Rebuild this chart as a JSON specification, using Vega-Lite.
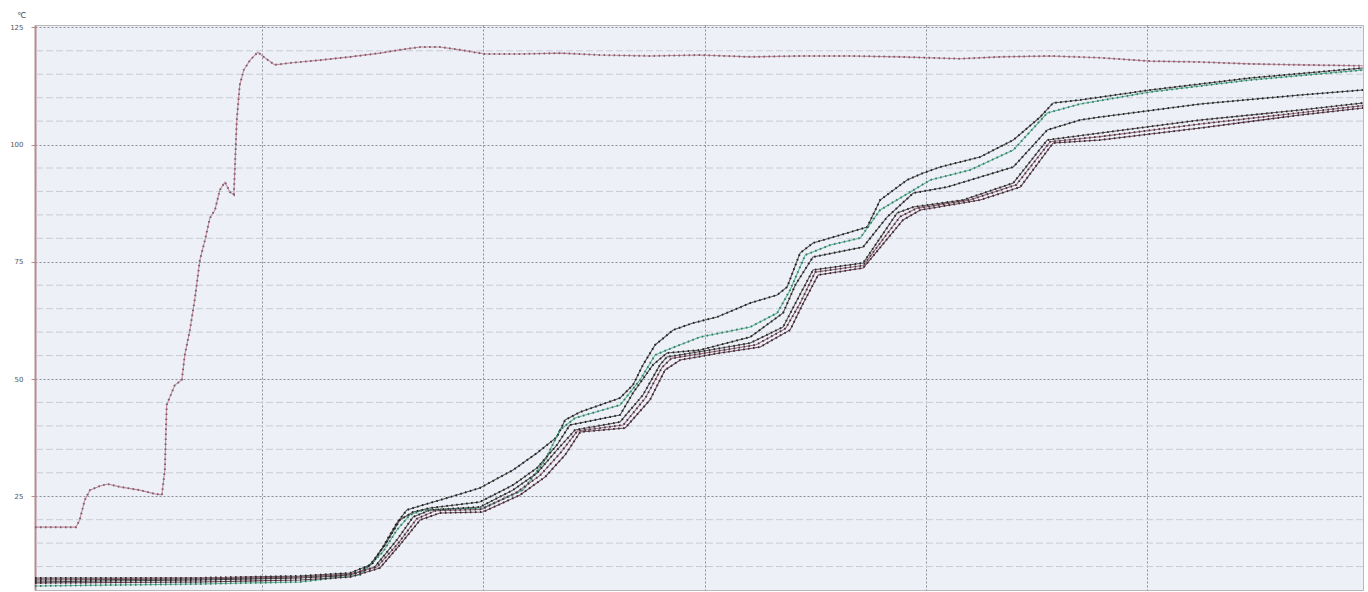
{
  "$schema": "https://vega.github.io/schema/vega-lite/v6.json",
  "width": 1328,
  "height": 565,
  "autosize": {"type": "none"},
  "padding": {"left": 35, "top": 25, "right": 5, "bottom": 2},
  "background": "#ffffff",
  "config": {
    "view": {"fill": "#edf0f7", "stroke": "#b8b8b8", "strokeWidth": 1},
    "font": "DejaVu Sans"
  },
  "datasets": {
    "minor": [
      {"v": 10}, {"v": 15}, {"v": 20}, {"v": 30}, {"v": 35}, {"v": 40}, {"v": 45},
      {"v": 55}, {"v": 60}, {"v": 65}, {"v": 70}, {"v": 80}, {"v": 85}, {"v": 90},
      {"v": 95}, {"v": 105}, {"v": 110}, {"v": 115}, {"v": 120}
    ],
    "temps": [
      {"s": "oven", "t": -1.5, "v": 18.4}, {"s": "oven", "t": 5.2, "v": 18.4}, {"s": "oven", "t": 9.6, "v": 18.4},
      {"s": "oven", "t": 10.6, "v": 19.9}, {"s": "oven", "t": 12.0, "v": 24.2}, {"s": "oven", "t": 13.4, "v": 26.3},
      {"s": "oven", "t": 16.1, "v": 27.2}, {"s": "oven", "t": 18.2, "v": 27.6}, {"s": "oven", "t": 21.5, "v": 27.0},
      {"s": "oven", "t": 26.9, "v": 26.3}, {"s": "oven", "t": 31.0, "v": 25.5}, {"s": "oven", "t": 32.9, "v": 25.3},
      {"s": "oven", "t": 33.7, "v": 30.6}, {"s": "oven", "t": 34.2, "v": 44.5}, {"s": "oven", "t": 36.4, "v": 48.7},
      {"s": "oven", "t": 38.3, "v": 49.8}, {"s": "oven", "t": 39.1, "v": 55.1}, {"s": "oven", "t": 40.5, "v": 60.5},
      {"s": "oven", "t": 41.8, "v": 66.9}, {"s": "oven", "t": 43.2, "v": 75.4}, {"s": "oven", "t": 44.6, "v": 79.7},
      {"s": "oven", "t": 45.9, "v": 84.3}, {"s": "oven", "t": 47.3, "v": 86.1}, {"s": "oven", "t": 48.6, "v": 90.3},
      {"s": "oven", "t": 50.0, "v": 92.0}, {"s": "oven", "t": 51.3, "v": 89.9}, {"s": "oven", "t": 52.4, "v": 89.3},
      {"s": "oven", "t": 53.2, "v": 105.2}, {"s": "oven", "t": 54.0, "v": 112.7}, {"s": "oven", "t": 55.1, "v": 115.9},
      {"s": "oven", "t": 56.8, "v": 118.0}, {"s": "oven", "t": 58.9, "v": 119.7}, {"s": "oven", "t": 60.8, "v": 118.5},
      {"s": "oven", "t": 63.5, "v": 117.0}, {"s": "oven", "t": 67.6, "v": 117.4}, {"s": "oven", "t": 70.3, "v": 117.6},
      {"s": "oven", "t": 75.7, "v": 118.0}, {"s": "oven", "t": 83.9, "v": 118.7}, {"s": "oven", "t": 92.0, "v": 119.5},
      {"s": "oven", "t": 97.4, "v": 120.2}, {"s": "oven", "t": 102.9, "v": 120.8}, {"s": "oven", "t": 108.3, "v": 120.8},
      {"s": "oven", "t": 113.7, "v": 120.2}, {"s": "oven", "t": 120.5, "v": 119.3}, {"s": "oven", "t": 130.0, "v": 119.3},
      {"s": "oven", "t": 140.8, "v": 119.5}, {"s": "oven", "t": 151.7, "v": 119.1}, {"s": "oven", "t": 165.2, "v": 118.9},
      {"s": "oven", "t": 178.8, "v": 119.1}, {"s": "oven", "t": 192.4, "v": 118.7}, {"s": "oven", "t": 205.9, "v": 118.9},
      {"s": "oven", "t": 219.5, "v": 118.9}, {"s": "oven", "t": 233.0, "v": 118.7}, {"s": "oven", "t": 249.3, "v": 118.3},
      {"s": "oven", "t": 260.1, "v": 118.7}, {"s": "oven", "t": 273.7, "v": 118.9}, {"s": "oven", "t": 287.3, "v": 118.5},
      {"s": "oven", "t": 300.8, "v": 117.8}, {"s": "oven", "t": 314.4, "v": 117.6}, {"s": "oven", "t": 327.9, "v": 117.2},
      {"s": "oven", "t": 341.5, "v": 117.0}, {"s": "oven", "t": 358.5, "v": 116.8},

      {"s": "A", "t": -1.5, "v": 6.72}, {"s": "A", "t": 16.1, "v": 6.93}, {"s": "A", "t": 43.2, "v": 7.14},
      {"s": "A", "t": 70.3, "v": 7.57}, {"s": "A", "t": 81.2, "v": 8.0}, {"s": "A", "t": 86.6, "v": 8.85},
      {"s": "A", "t": 90.1, "v": 10.77}, {"s": "A", "t": 92.8, "v": 14.18}, {"s": "A", "t": 96.6, "v": 19.3},
      {"s": "A", "t": 99.3, "v": 22.07}, {"s": "A", "t": 103.7, "v": 23.14}, {"s": "A", "t": 110.2, "v": 24.63},
      {"s": "A", "t": 119.1, "v": 26.76}, {"s": "A", "t": 128.1, "v": 30.6}, {"s": "A", "t": 134.6, "v": 34.23},
      {"s": "A", "t": 140.0, "v": 37.64}, {"s": "A", "t": 142.2, "v": 41.26}, {"s": "A", "t": 146.3, "v": 42.97},
      {"s": "A", "t": 151.7, "v": 44.46}, {"s": "A", "t": 157.1, "v": 45.96}, {"s": "A", "t": 160.6, "v": 48.73},
      {"s": "A", "t": 163.3, "v": 53.0}, {"s": "A", "t": 166.6, "v": 57.26}, {"s": "A", "t": 171.5, "v": 60.46},
      {"s": "A", "t": 176.9, "v": 61.95}, {"s": "A", "t": 183.4, "v": 63.23}, {"s": "A", "t": 192.4, "v": 66.21},
      {"s": "A", "t": 199.7, "v": 67.92}, {"s": "A", "t": 202.4, "v": 69.63}, {"s": "A", "t": 205.9, "v": 76.88},
      {"s": "A", "t": 209.4, "v": 79.01}, {"s": "A", "t": 218.7, "v": 81.14}, {"s": "A", "t": 224.1, "v": 82.42},
      {"s": "A", "t": 227.6, "v": 88.18}, {"s": "A", "t": 234.9, "v": 92.45}, {"s": "A", "t": 239.3, "v": 93.94},
      {"s": "A", "t": 243.9, "v": 95.22}, {"s": "A", "t": 254.7, "v": 97.35}, {"s": "A", "t": 263.7, "v": 100.98},
      {"s": "A", "t": 271.0, "v": 105.88}, {"s": "A", "t": 274.5, "v": 108.87}, {"s": "A", "t": 281.8, "v": 109.51},
      {"s": "A", "t": 300.8, "v": 111.64}, {"s": "A", "t": 327.9, "v": 114.2}, {"s": "A", "t": 358.5, "v": 116.33},

      {"s": "B", "t": -1.5, "v": 5.86}, {"s": "B", "t": 43.2, "v": 6.29}, {"s": "B", "t": 70.3, "v": 6.72},
      {"s": "B", "t": 86.6, "v": 8.21}, {"s": "B", "t": 92.8, "v": 13.11}, {"s": "B", "t": 96.6, "v": 17.8},
      {"s": "B", "t": 100.1, "v": 21.0}, {"s": "B", "t": 103.7, "v": 22.07}, {"s": "B", "t": 119.9, "v": 22.49},
      {"s": "B", "t": 130.8, "v": 26.33}, {"s": "B", "t": 136.8, "v": 32.73}, {"s": "B", "t": 140.8, "v": 39.13},
      {"s": "B", "t": 144.9, "v": 41.69}, {"s": "B", "t": 157.1, "v": 44.46}, {"s": "B", "t": 162.5, "v": 49.8},
      {"s": "B", "t": 166.6, "v": 55.12}, {"s": "B", "t": 169.8, "v": 56.19}, {"s": "B", "t": 178.8, "v": 58.96},
      {"s": "B", "t": 192.4, "v": 61.1}, {"s": "B", "t": 199.7, "v": 64.08}, {"s": "B", "t": 203.2, "v": 68.99},
      {"s": "B", "t": 207.3, "v": 76.45}, {"s": "B", "t": 214.1, "v": 78.58}, {"s": "B", "t": 222.2, "v": 80.08},
      {"s": "B", "t": 227.6, "v": 86.05}, {"s": "B", "t": 241.2, "v": 92.45}, {"s": "B", "t": 252.0, "v": 94.58},
      {"s": "B", "t": 263.7, "v": 98.84}, {"s": "B", "t": 272.9, "v": 106.73}, {"s": "B", "t": 281.8, "v": 108.65},
      {"s": "B", "t": 300.8, "v": 111.21}, {"s": "B", "t": 327.9, "v": 113.77}, {"s": "B", "t": 358.5, "v": 115.9},

      {"s": "D", "t": -1.5, "v": 7.57}, {"s": "D", "t": 43.2, "v": 7.57}, {"s": "D", "t": 70.3, "v": 8.0},
      {"s": "D", "t": 83.9, "v": 8.64}, {"s": "D", "t": 89.3, "v": 10.34}, {"s": "D", "t": 93.4, "v": 14.61},
      {"s": "D", "t": 97.4, "v": 19.94}, {"s": "D", "t": 101.0, "v": 21.64}, {"s": "D", "t": 105.6, "v": 22.49},
      {"s": "D", "t": 119.1, "v": 23.78}, {"s": "D", "t": 128.1, "v": 27.4}, {"s": "D", "t": 134.6, "v": 31.03},
      {"s": "D", "t": 140.0, "v": 35.93}, {"s": "D", "t": 143.5, "v": 40.2}, {"s": "D", "t": 157.1, "v": 42.33},
      {"s": "D", "t": 160.6, "v": 47.02}, {"s": "D", "t": 166.0, "v": 53.0}, {"s": "D", "t": 169.8, "v": 55.55},
      {"s": "D", "t": 178.8, "v": 56.19}, {"s": "D", "t": 192.4, "v": 58.96}, {"s": "D", "t": 201.3, "v": 64.08},
      {"s": "D", "t": 204.6, "v": 70.05}, {"s": "D", "t": 209.4, "v": 76.02}, {"s": "D", "t": 223.0, "v": 78.16},
      {"s": "D", "t": 229.5, "v": 84.55}, {"s": "D", "t": 236.6, "v": 89.67}, {"s": "D", "t": 245.8, "v": 90.95},
      {"s": "D", "t": 263.7, "v": 95.22}, {"s": "D", "t": 272.9, "v": 103.11}, {"s": "D", "t": 281.8, "v": 105.24},
      {"s": "D", "t": 287.3, "v": 105.88}, {"s": "D", "t": 314.4, "v": 108.65}, {"s": "D", "t": 341.5, "v": 110.57},
      {"s": "D", "t": 358.5, "v": 111.64},

      {"s": "E", "t": -1.5, "v": 7.14}, {"s": "E", "t": 43.2, "v": 7.36}, {"s": "E", "t": 70.3, "v": 7.78},
      {"s": "E", "t": 83.9, "v": 8.21}, {"s": "E", "t": 90.6, "v": 9.92}, {"s": "E", "t": 96.6, "v": 15.67},
      {"s": "E", "t": 101.0, "v": 20.58}, {"s": "E", "t": 105.6, "v": 22.07}, {"s": "E", "t": 119.1, "v": 22.71},
      {"s": "E", "t": 128.1, "v": 26.33}, {"s": "E", "t": 134.6, "v": 29.96}, {"s": "E", "t": 140.0, "v": 34.86},
      {"s": "E", "t": 144.9, "v": 39.13}, {"s": "E", "t": 157.1, "v": 40.84}, {"s": "E", "t": 163.3, "v": 46.59},
      {"s": "E", "t": 167.9, "v": 53.0}, {"s": "E", "t": 169.8, "v": 54.7}, {"s": "E", "t": 181.5, "v": 56.19},
      {"s": "E", "t": 192.4, "v": 57.68}, {"s": "E", "t": 201.3, "v": 61.1}, {"s": "E", "t": 205.1, "v": 66.85},
      {"s": "E", "t": 209.4, "v": 73.25}, {"s": "E", "t": 223.0, "v": 74.74}, {"s": "E", "t": 232.2, "v": 85.41},
      {"s": "E", "t": 236.6, "v": 86.69}, {"s": "E", "t": 250.1, "v": 88.18}, {"s": "E", "t": 263.7, "v": 91.81},
      {"s": "E", "t": 272.9, "v": 100.98}, {"s": "E", "t": 287.3, "v": 102.47}, {"s": "E", "t": 314.4, "v": 105.24},
      {"s": "E", "t": 341.5, "v": 107.37}, {"s": "E", "t": 358.5, "v": 108.87},

      {"s": "G", "t": -1.5, "v": 7.36}, {"s": "G", "t": 43.2, "v": 7.57}, {"s": "G", "t": 70.3, "v": 7.78},
      {"s": "G", "t": 83.9, "v": 8.42}, {"s": "G", "t": 91.2, "v": 9.9}, {"s": "G", "t": 97.0, "v": 15.0},
      {"s": "G", "t": 102.0, "v": 20.2}, {"s": "G", "t": 107.0, "v": 21.9}, {"s": "G", "t": 119.5, "v": 22.2},
      {"s": "G", "t": 129.0, "v": 25.8}, {"s": "G", "t": 135.5, "v": 29.5}, {"s": "G", "t": 141.0, "v": 34.3},
      {"s": "G", "t": 145.5, "v": 38.9}, {"s": "G", "t": 158.0, "v": 40.2}, {"s": "G", "t": 164.0, "v": 46.0},
      {"s": "G", "t": 168.5, "v": 52.5}, {"s": "G", "t": 171.0, "v": 54.4}, {"s": "G", "t": 183.0, "v": 55.9},
      {"s": "G", "t": 194.0, "v": 57.3}, {"s": "G", "t": 202.0, "v": 60.8}, {"s": "G", "t": 206.0, "v": 66.3},
      {"s": "G", "t": 210.0, "v": 72.8}, {"s": "G", "t": 223.0, "v": 74.2}, {"s": "G", "t": 233.0, "v": 84.6},
      {"s": "G", "t": 237.5, "v": 86.4}, {"s": "G", "t": 252.0, "v": 88.2}, {"s": "G", "t": 264.5, "v": 91.4},
      {"s": "G", "t": 273.7, "v": 100.6}, {"s": "G", "t": 287.3, "v": 101.7}, {"s": "G", "t": 314.4, "v": 104.4},
      {"s": "G", "t": 341.5, "v": 106.8}, {"s": "G", "t": 358.5, "v": 108.3},

      {"s": "F", "t": -1.5, "v": 6.5}, {"s": "F", "t": 43.2, "v": 6.72}, {"s": "F", "t": 70.3, "v": 7.14},
      {"s": "F", "t": 83.9, "v": 7.78}, {"s": "F", "t": 92.0, "v": 9.7}, {"s": "F", "t": 97.4, "v": 14.61},
      {"s": "F", "t": 102.9, "v": 19.94}, {"s": "F", "t": 108.3, "v": 21.43}, {"s": "F", "t": 119.9, "v": 21.64},
      {"s": "F", "t": 130.0, "v": 25.27}, {"s": "F", "t": 136.8, "v": 29.11}, {"s": "F", "t": 142.2, "v": 33.8},
      {"s": "F", "t": 146.3, "v": 38.7}, {"s": "F", "t": 158.5, "v": 39.56}, {"s": "F", "t": 165.2, "v": 45.53},
      {"s": "F", "t": 169.3, "v": 51.93}, {"s": "F", "t": 173.4, "v": 54.06}, {"s": "F", "t": 184.2, "v": 55.55},
      {"s": "F", "t": 195.1, "v": 56.83}, {"s": "F", "t": 203.2, "v": 60.46}, {"s": "F", "t": 206.5, "v": 65.79},
      {"s": "F", "t": 210.8, "v": 72.19}, {"s": "F", "t": 223.0, "v": 73.68}, {"s": "F", "t": 233.8, "v": 83.91},
      {"s": "F", "t": 238.5, "v": 86.05}, {"s": "F", "t": 254.7, "v": 88.18}, {"s": "F", "t": 265.6, "v": 90.95},
      {"s": "F", "t": 274.5, "v": 100.34}, {"s": "F", "t": 287.3, "v": 100.98}, {"s": "F", "t": 314.4, "v": 103.53},
      {"s": "F", "t": 341.5, "v": 106.31}, {"s": "F", "t": 358.5, "v": 107.8}
    ]
  },
  "layer": [
    {
      "data": {"name": "minor"},
      "mark": {"type": "rule", "color": "#c9ccd6", "strokeWidth": 1, "strokeDash": [7, 3]},
      "encoding": {
        "y": {
          "field": "v", "type": "quantitative",
          "scale": {"domain": [5, 125.5], "nice": false, "zero": false},
          "axis": {
            "values": [25, 50, 75, 100, 125], "title": "℃", "titleAngle": 0, "titleX": -14, "titleY": -6,
            "titleFontSize": 8, "titleFontWeight": "normal", "titleColor": "#444", "titleAlign": "center",
            "labelFontSize": 7, "labelColor": "#555", "labelPadding": 8,
            "domainColor": "#b48c8c", "domainWidth": 2, "tickColor": "#b48c8c", "tickSize": 4,
            "grid": true, "gridColor": "#8a8f9a", "gridDash": [2, 2], "gridWidth": 1
          }
        }
      }
    },
    {
      "data": {"name": "temps"},
      "mark": {"type": "line", "strokeWidth": 1.1, "interpolate": "linear"},
      "encoding": {
        "x": {
          "field": "t", "type": "quantitative",
          "scale": {"domain": [-1.5, 358.5], "nice": false, "zero": false},
          "axis": {
            "values": [60, 120, 180, 240, 300], "labels": false, "ticks": false, "domain": false, "title": null,
            "grid": true, "gridColor": "#8a8f9a", "gridDash": [2, 2], "gridWidth": 1
          }
        },
        "y": {
          "field": "v", "type": "quantitative",
          "scale": {"domain": [5, 125.5], "nice": false, "zero": false},
          "axis": {
            "values": [25, 50, 75, 100, 125], "title": "℃", "titleAngle": 0, "titleX": -14, "titleY": -6,
            "titleFontSize": 8, "titleFontWeight": "normal", "titleColor": "#444", "titleAlign": "center",
            "labelFontSize": 7, "labelColor": "#555", "labelPadding": 8,
            "domainColor": "#b48c8c", "domainWidth": 2, "tickColor": "#b48c8c", "tickSize": 4,
            "grid": true, "gridColor": "#8a8f9a", "gridDash": [2, 2], "gridWidth": 1
          }
        },
        "detail": {"field": "s"},
        "color": {
          "field": "s", "type": "nominal", "legend": null,
          "scale": {
            "domain": ["oven", "A", "B", "D", "E", "G", "F"],
            "range": ["#c48a9c", "#555555", "#5fb898", "#555555", "#5e5456", "#9a7080", "#6e4a58"]
          }
        },
        "order": {"field": "t", "type": "quantitative"}
      }
    },
    {
      "data": {"name": "temps"},
      "mark": {"type": "line", "strokeWidth": 2, "strokeDash": [1.5, 3.5], "interpolate": "linear"},
      "encoding": {
        "x": {"field": "t", "type": "quantitative", "scale": {"domain": [-1.5, 358.5], "nice": false, "zero": false},
          "axis": {
            "values": [60, 120, 180, 240, 300], "labels": false, "ticks": false, "domain": false, "title": null,
            "grid": true, "gridColor": "#8a8f9a", "gridDash": [2, 2], "gridWidth": 1
          }
        },
        "y": {"field": "v", "type": "quantitative", "scale": {"domain": [5, 125.5], "nice": false, "zero": false},
          "axis": {
            "values": [25, 50, 75, 100, 125], "title": "℃", "titleAngle": 0, "titleX": -14, "titleY": -6,
            "titleFontSize": 8, "titleFontWeight": "normal", "titleColor": "#444", "titleAlign": "center",
            "labelFontSize": 7, "labelColor": "#555", "labelPadding": 8,
            "domainColor": "#b48c8c", "domainWidth": 2, "tickColor": "#b48c8c", "tickSize": 4,
            "grid": true, "gridColor": "#8a8f9a", "gridDash": [2, 2], "gridWidth": 1
          }
        },
        "detail": {"field": "s"},
        "stroke": {
          "field": "s", "type": "nominal", "legend": null,
          "scale": {
            "domain": ["oven", "A", "B", "D", "E", "G", "F"],
            "range": ["#7a6068", "#222222", "#3c7a64", "#222222", "#2a2a2a", "#4a3038", "#3a2a30"]
          }
        },
        "order": {"field": "t", "type": "quantitative"}
      }
    }
  ]
}
